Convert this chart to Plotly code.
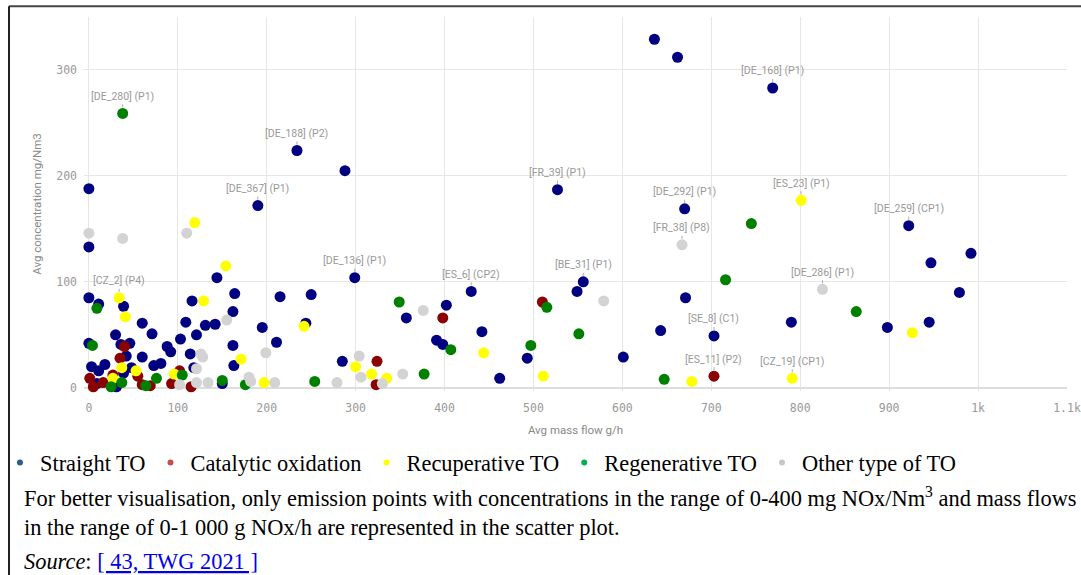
import plotly.graph_objects as go

# emission points (mass flow g/h, concentration mg/Nm3)
straight_x = [636, 662, 769, 234, 288, 0, 190, 527, 670, 922, 947, 992, 979, 790, 898, 945, 703,
              671, 643, 601, 556, 549, 493, 462, 442, 430, 402, 357, 391, 398, 299, 285, 250, 215,
              164, 162, 195, 211, 162, 163, 150, 144, 116, 131, 142, 121, 109, 103, 114, 118, 88,
              92, 81, 73, 71, 60, 60, 30, 46, 39, 36, 42, 39, 48, 18, 11, 3, 0, 11, 0, 0, 31, 9, 244]
straight_y = [329, 312, 283, 224, 205, 188, 172, 187, 169, 153, 118, 127, 90, 62, 57, 62, 49,
              85, 54, 29, 100, 91, 28, 9, 53, 91, 78, 66, 45, 41, 104, 25, 88, 86,
              89, 72, 57, 43, 40, 21, 4, 104, 82, 59, 60, 50, 62, 46, 32, 19, 39,
              34, 23, 21, 51, 61, 29, 50, 42, 77, 41, 30, 14, 19, 22, 16, 20, 85, 79, 133, 42, 1, 4, 61]

catalytic_x = [510, 398, 324, 323, 703, 40, 35, 55, 27, 93, 102, 115, 60, 1, 5, 69, 16]
catalytic_y = [81, 66, 25, 3, 11, 39, 28, 11, 12, 4, 16, 1, 3, 9, 1, 2, 5]

recuperative_x = [801, 926, 791, 678, 511, 444, 335, 318, 300, 242, 197, 171, 154, 119, 129, 96,
                  41, 34, 53, 37, 27]
recuperative_y = [177, 52, 9, 6, 11, 33, 9, 13, 20, 58, 5, 27, 115, 156, 82, 13,
                  67, 85, 16, 19, 9]

regenerative_x = [38, 745, 716, 863, 647, 551, 515, 497, 407, 377, 349, 254, 176, 150, 105, 76,
                  64, 37, 4, 9, 25]
regenerative_y = [259, 155, 102, 72, 8, 51, 76, 40, 36, 13, 81, 6, 3, 7, 12, 9,
                  2, 5, 40, 75, 1]

other_x = [667, 825, 579, 376, 304, 306, 353, 330, 279, 209, 199, 180, 134, 155, 126, 128, 121,
           110, 38, 0, 121, 102, 182]
other_y = [135, 93, 82, 73, 30, 10, 13, 4, 5, 5, 33, 10, 5, 64, 32, 29, 18,
           146, 141, 146, 5, 3, 6]

series_names = ["Straight TO", "Catalytic oxidation", "Recuperative TO", "Regenerative TO",
                "Other type of TO"]

# (series, index in that series, label)
point_labels = [
    ("Regenerative TO", 0, "[DE_280] (P1)"),
    ("Straight TO", 3, "[DE_188] (P2)"),
    ("Straight TO", 6, "[DE_367] (P1)"),
    ("Straight TO", 30, "[DE_136] (P1)"),
    ("Recuperative TO", 17, "[CZ_2] (P4)"),
    ("Straight TO", 25, "[ES_6] (CP2)"),
    ("Straight TO", 7, "[FR_39] (P1)"),
    ("Straight TO", 20, "[BE_31] (P1)"),
    ("Straight TO", 2, "[DE_168] (P1)"),
    ("Straight TO", 8, "[DE_292] (P1)"),
    ("Other type of TO", 0, "[FR_38] (P8)"),
    ("Recuperative TO", 0, "[ES_23] (P1)"),
    ("Straight TO", 9, "[DE_259] (CP1)"),
    ("Other type of TO", 1, "[DE_286] (P1)"),
    ("Straight TO", 16, "[SE_8] (C1)"),
    ("Catalytic oxidation", 4, "[ES_11] (P2)"),
    ("Recuperative TO", 2, "[CZ_19] (CP1)"),
]

xs = [straight_x, catalytic_x, recuperative_x, regenerative_x, other_x]
ys = [straight_y, catalytic_y, recuperative_y, regenerative_y, other_y]
data = {n: (x, y) for n, x, y in zip(series_names, xs, ys)}

point_colors = ["#000080", "#8b0000", "#ffff00", "#008000", "#d3d3d3"]
legend_colors = ["#2e5a8c", "#c0504d", "#ffff00", "#00b050", "#c8c8c8"]

fig = go.Figure()

for name, color in zip(series_names, point_colors):
    x, y = data[name]
    fig.add_trace(go.Scatter(
        x=x, y=y, mode="markers", name=name, showlegend=False, cliponaxis=False,
        marker=dict(size=11, color=color, line=dict(width=0)),
    ))

# small legend dots like the source document
for name, color in zip(series_names, legend_colors):
    fig.add_trace(go.Scatter(
        x=[None], y=[None], mode="markers", name=name,
        marker=dict(size=6, color=color),
    ))

for series, i, text in point_labels:
    x, y = data[series]
    fig.add_annotation(
        x=x[i], y=y[i], text=text, showarrow=True, ax=0, ay=-17,
        arrowhead=0, arrowwidth=1, arrowcolor="#aaaaaa", standoff=6,
        font=dict(family="Roboto", size=10.5, color="#999999"),
    )

# caption below the chart (paper coords)
caption_font = dict(family="Liberation Serif", size=22.4, color="#000000")
cap_x = -0.0631
fig.add_annotation(
    xref="paper", yref="paper", x=cap_x, y=-0.283, xanchor="left", yanchor="middle",
    showarrow=False, align="left", font=caption_font,
    text="For better visualisation, only emission points with concentrations in the range of "
         "0-400 mg NOx/Nm<sup>3</sup> and mass flows",
)
fig.add_annotation(
    xref="paper", yref="paper", x=cap_x, y=-0.364, xanchor="left", yanchor="middle",
    showarrow=False, align="left", font=caption_font,
    text="in the range of 0-1 000 g NOx/h are represented in the scatter plot.",
)
fig.add_annotation(
    xref="paper", yref="paper", x=cap_x, y=-0.457, xanchor="left", yanchor="middle",
    showarrow=False, align="left", font=caption_font,
    text="<i>Source</i>: <span style='color:#0000ee'><u>[ 43, TWG 2021 ]</u></span>",
)

# frame around the figure, as in the document
fig.add_shape(type="line", xref="paper", yref="paper", x0=-0.0763, x1=1.02, y0=1.029, y1=1.029,
              line=dict(color="#444444", width=2))
fig.add_shape(type="line", xref="paper", yref="paper", x0=-0.0763, x1=-0.0763, y0=1.029, y1=-0.5,
              line=dict(color="#222222", width=2))

tick_font = dict(family="DejaVu Sans Mono", size=11.5, color="#999999")
title_font = dict(family="Roboto", size=11.5, color="#888888")

fig.update_layout(
    width=1081, height=575,
    margin=dict(l=84, r=14, t=17, b=184, autoexpand=False),
    paper_bgcolor="white", plot_bgcolor="white",
    legend=dict(
        orientation="h", x=-0.0855, y=-0.1925, xanchor="left", yanchor="middle",
        font=dict(family="Liberation Serif", size=22.4, color="#000000"),
        itemwidth=30, bgcolor="rgba(0,0,0,0)",
    ),
    xaxis=dict(
        range=[-5.5, 1100], dtick=100, tickformat="~s",
        showgrid=True, gridcolor="#e6e6e6", gridwidth=1, zeroline=False,
        tickfont=tick_font, ticklabelstandoff=8,
        title=dict(text="Avg mass flow g/h", font=title_font, standoff=12),
    ),
    yaxis=dict(
        range=[-3, 350], dtick=100, tickformat="~s",
        showgrid=True, gridcolor="#e6e6e6", gridwidth=1,
        zeroline=True, zerolinecolor="#dddddd", zerolinewidth=2,
        tickfont=tick_font, ticklabelstandoff=6,
        title=dict(text="Avg concentration mg/Nm3", font=title_font, standoff=12),
    ),
)

fig.write_html(
    "out.html",
    config={"displayModeBar": False},
    post_script="document.body.style.margin='0';document.body.style.overflow='hidden';",
)
